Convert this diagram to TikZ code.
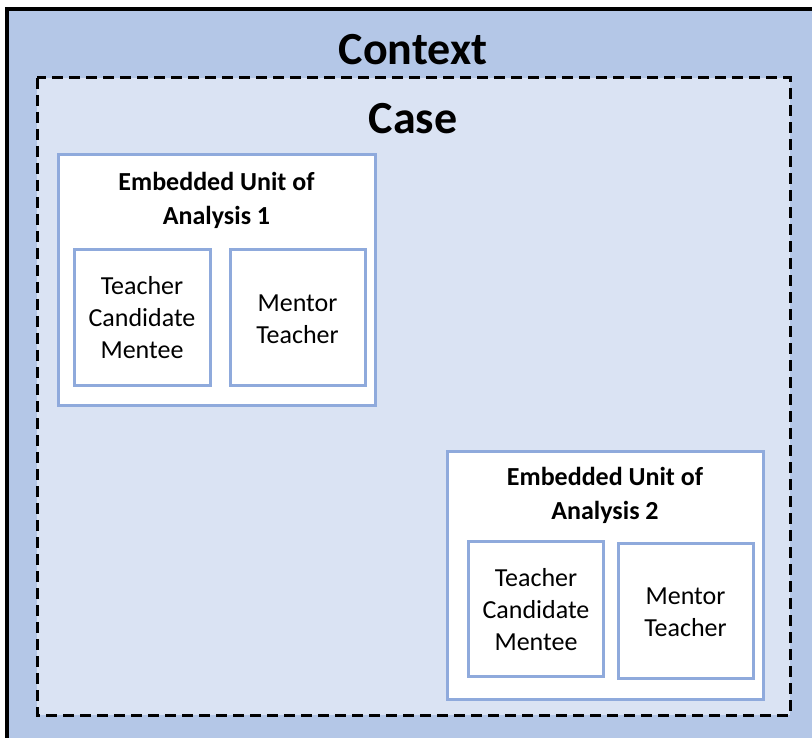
\documentclass[tikz,border=0pt]{standalone}
\usepackage{fontspec}
\setmainfont{Carlito}
\definecolor{contextblue}{HTML}{B4C7E7}
\definecolor{caseblue}{HTML}{DAE3F3}
\definecolor{unitedge}{HTML}{8FAADC}
\begin{document}
\begin{tikzpicture}[x=1pt,y=-1pt,
  unitbox/.style={draw=unitedge, line width=3pt, fill=white, inner sep=0pt},
  unittitle/.style={font=\fontsize{26}{34}\selectfont\bfseries, align=center, inner sep=0pt},
  roletext/.style={font=\fontsize{26}{32}\selectfont, align=center, inner sep=0pt},
  bigtitle/.style={font=\fontsize{46}{50}\selectfont\bfseries, inner sep=0pt}]
\clip (0,0) rectangle (812,738);
% context layer
\draw[fill=contextblue, line width=3.2pt] (7,9) rectangle (840,760);
% case layer
\draw[fill=caseblue, line width=3pt, dash pattern=on 11pt off 6pt] (37,78) rectangle (790,715);
\node[bigtitle] (context) at (413,50) {Context};
\node[bigtitle] (case) at (413,119) {Case};
% embedded unit 1
\node[unitbox, minimum width=317pt, minimum height=250pt] (u1) at (216.5,280) {};
\node[unittitle] (u1t) at (216.5,200) {Embedded Unit of\\Analysis 1};
\node[unitbox, minimum width=136pt, minimum height=135pt] (u1a) at (142,317.5) {};
\node[roletext] at (u1a) {Teacher\\Candidate\\Mentee};
\node[unitbox, minimum width=135pt, minimum height=135pt] (u1b) at (297.5,317.5) {};
\node[roletext] at (297.5,319) {Mentor\\Teacher};
% embedded unit 2
\node[unitbox, minimum width=316pt, minimum height=248pt] (u2) at (605,575) {};
\node[unittitle] (u2t) at (605,495) {Embedded Unit of\\Analysis 2};
\node[unitbox, minimum width=135pt, minimum height=135pt] (u2a) at (535.5,608.5) {};
\node[roletext] at (536,610) {Teacher\\Candidate\\Mentee};
\node[unitbox, minimum width=135pt, minimum height=135pt] (u2b) at (685.5,610.5) {};
\node[roletext] at (685.5,612) {Mentor\\Teacher};
\end{tikzpicture}
\end{document}
